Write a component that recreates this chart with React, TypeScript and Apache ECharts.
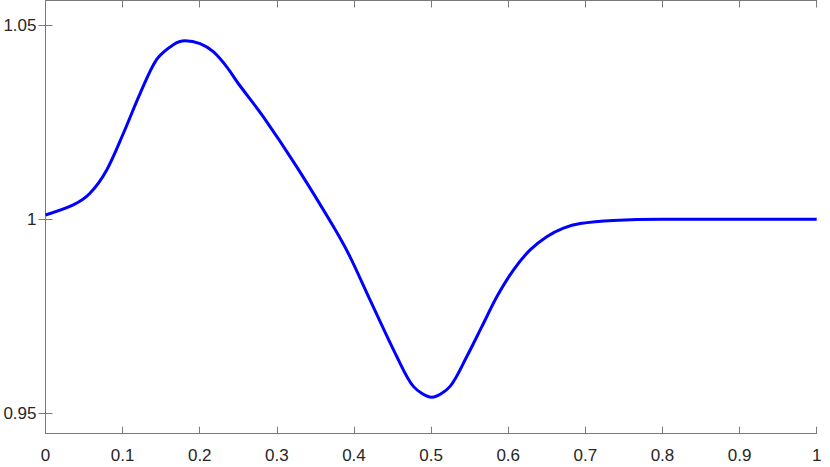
import React, { useEffect, useRef } from "react";
import * as echarts from "echarts";

const xValues = [0, 0.036, 0.0577, 0.0794, 0.1009, 0.1226, 0.1442, 0.1658, 0.1809, 0.2004, 0.2176, 0.235, 0.25, 0.2825, 0.3258, 0.3733, 0.3949, 0.4208, 0.4555, 0.477, 0.5009, 0.5246, 0.5463, 0.5658, 0.5852, 0.6067, 0.6284, 0.65, 0.6716, 0.6933, 0.7364, 0.8, 0.9, 1.0];
const yValues = [1.0011, 1.0037, 1.0067, 1.0127, 1.0221, 1.0324, 1.0412, 1.045, 1.046, 1.0453, 1.0432, 1.0393, 1.035, 1.0264, 1.0135, 0.9981, 0.9903, 0.9792, 0.9646, 0.9569, 0.9541, 0.9569, 0.9646, 0.9723, 0.98, 0.9869, 0.9921, 0.9955, 0.9977, 0.9989, 0.9997, 1.0, 1.0, 1.0];
const yTicks = [0.95, 1, 1.05];
const yTickLabels = ["0.95", "1", "1.05"];

const axisColor = "#7a7a7a";
const labelColor = "#262626";
const font = "'Liberation Sans', Arial, Helvetica, sans-serif";

export default function App() {
  const ref = useRef<HTMLDivElement>(null);
  useEffect(() => {
    if (!ref.current) return;
    const chart = echarts.init(ref.current, null, { renderer: "svg" });
    const data = xValues.map((x, i) => [x, yValues[i]]);
    const axisLine = { show: true, lineStyle: { color: axisColor, width: 1 } };
    chart.setOption({
      animation: false,
      grid: { left: 45.5, right: 13.3, top: 0.5, bottom: 33.3, containLabel: false },
      xAxis: [
        {
          type: "value", min: 0, max: 1, interval: 0.1, position: "bottom",
          axisLine, splitLine: { show: false },
          axisTick: { show: true, inside: true, length: 7, lineStyle: { color: axisColor } },
          axisLabel: { color: labelColor, fontSize: 17, fontFamily: font, margin: 13,
            formatter: (v: number) => String(Math.round(v * 10) / 10) },
        },
        {
          type: "value", min: 0, max: 1, interval: 0.1, position: "top",
          axisLine, splitLine: { show: false },
          axisTick: { show: true, inside: true, length: 7, lineStyle: { color: axisColor } },
          axisLabel: { show: false },
        },
      ],
      yAxis: [
        {
          type: "value", min: 0.9447, max: 1.0564, position: "left",
          axisLine, splitLine: { show: false },
          axisTick: { show: true, inside: true, length: 7, customValues: yTicks, lineStyle: { color: axisColor } },
          axisLabel: { color: labelColor, fontSize: 17, fontFamily: font, margin: 9,
            customValues: yTicks,
            formatter: (v: number) => { const i = yTicks.findIndex((t) => Math.abs(t - v) < 1e-9); return i >= 0 ? yTickLabels[i] : ""; } },
        },
        {
          type: "value", min: 0.9447, max: 1.0564, position: "right",
          axisLine, splitLine: { show: false },
          axisTick: { show: true, inside: true, length: 7, customValues: yTicks, lineStyle: { color: axisColor } },
          axisLabel: { show: false },
        },
      ],
      series: [
        {
          type: "line", data, xAxisIndex: 0, yAxisIndex: 0,
          showSymbol: false, smooth: 0.3,
          lineStyle: { color: "#0000ff", width: 3 },
        },
      ],
    });
    return () => chart.dispose();
  }, []);
  return <div ref={ref} style={{ width: 830, height: 467, position: "absolute", left: 0, top: 0 }} />;
}
